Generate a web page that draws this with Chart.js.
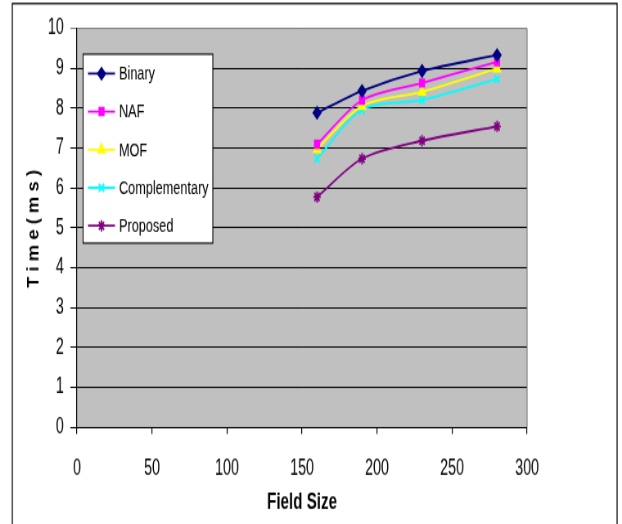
<!DOCTYPE html>
<html>
<head>
<meta charset="utf-8">
<script src="https://cdn.jsdelivr.net/npm/chart.js@4.4.1/dist/chart.umd.min.js"></script>
<style>
  html, body { margin: 0; padding: 0; background: #ffffff; overflow: hidden; }
  #wrap { width: 622px; height: 524px; overflow: hidden; position: relative; }
  /* the reference is a stretched screenshot: draw on 760x416 and stretch to 622x524 */
  #timeChart { position: absolute; left: 0; top: 0; transform-origin: 0 0; transform: scale(0.818421, 1.259615); }
</style>
</head>
<body>
<div id="wrap">
<canvas id="timeChart" width="760" height="416"></canvas>
</div>
<script>
// ---------------- DATA ----------------
const fieldSizes = [160, 190, 230, 280];

const binary        = [7.88, 8.43, 8.93, 9.33];
const naf           = [7.09, 8.20, 8.63, 9.16];
const mof           = [6.97, 8.05, 8.41, 8.99];
const complementary = [6.73, 7.96, 8.20, 8.73];
const proposed      = [5.77, 6.73, 7.18, 7.54];

const seriesNames = ["Binary", "NAF", "MOF", "Complementary", "Proposed"];
const xTicks = [0, 50, 100, 150, 200, 250, 300];
const yTicks = [0, 1, 2, 3, 4, 5, 6, 7, 8, 9, 10];
const yTitle = "T i m e ( m s )";

const sans = "'Liberation Sans', Arial, sans-serif";

function points(values) {
    return fieldSizes.map((x, i) => ({ x: x, y: values[i] }));
}

function series(label, values, color, style, radius) {
    return {
        label: label,
        data: points(values),
        borderColor: color,
        backgroundColor: color,
        borderWidth: 1.8,
        pointStyle: style,
        pointRadius: radius,
        pointBorderWidth: 1.8,
        pointBorderColor: color,
        pointBackgroundColor: color,
        tension: 0.3,
        fill: false
    };
}

// ---------------- PLUGINS ----------------
const plotFrame = {
    id: "plotFrame",
    beforeDraw(chart) {
        const { ctx, chartArea: a } = chart;
        ctx.save();
        ctx.fillStyle = "#c0c0c0";
        ctx.fillRect(a.left, a.top, a.right - a.left, a.bottom - a.top);
        ctx.restore();
    },
    afterDraw(chart) {
        const { ctx, chartArea: a } = chart;
        ctx.save();
        ctx.strokeStyle = "#808080";
        ctx.lineWidth = 1.2;
        ctx.beginPath();
        ctx.moveTo(a.right, a.top);
        ctx.lineTo(a.right, a.bottom);
        ctx.stroke();

        // outer border
        ctx.strokeStyle = "#000000";
        ctx.lineWidth = 1.3;
        ctx.strokeRect(15, 2.8, 739, 420);

        // y axis title, squeezed so it reads like the reference after the stretch
        ctx.translate(41.5, (a.top + a.bottom) / 2 + 1);
        ctx.rotate(-Math.PI / 2);
        ctx.scale(0.814, 1.167);
        ctx.fillStyle = "#000000";
        ctx.font = "bold 18px " + sans;
        ctx.textAlign = "center";
        ctx.textBaseline = "middle";
        ctx.fillText(yTitle, 0, 0);
        ctx.restore();
    }
};

const boxLegend = {
    id: "boxLegend",
    afterDatasetsDraw(chart) {
        const ctx = chart.ctx;
        const left = 101.5, top = 43, width = 158.5, height = 150;
        ctx.save();
        ctx.fillStyle = "#ffffff";
        ctx.fillRect(left, top, width, height);
        ctx.strokeStyle = "#000000";
        ctx.lineWidth = 1.1;
        ctx.strokeRect(left, top, width, height);

        chart.data.datasets.forEach((ds, i) => {
            const y = 58.4 + i * 30.2;
            ctx.strokeStyle = ds.borderColor;
            ctx.fillStyle = ds.borderColor;
            ctx.lineWidth = 1.8;
            ctx.beginPath();
            ctx.moveTo(107.5, y);
            ctx.lineTo(140.5, y);
            ctx.stroke();
            Chart.helpers.drawPoint(ctx, {
                pointStyle: ds.pointStyle,
                radius: ds.pointRadius,
                rotation: 0,
                borderWidth: 1.8
            }, 124, y);
            ctx.fillStyle = "#000000";
            ctx.font = "15.5px " + sans;
            ctx.textBaseline = "middle";
            ctx.textAlign = "left";
            ctx.fillText(ds.label, 145.4, y + 0.5);
        });
        ctx.restore();
    }
};

// ---------------- LINE CHART ----------------
const canvas = document.getElementById("timeChart");

new Chart(canvas, {
    type: "line",

    data: {
        datasets: [
            series(seriesNames[0], binary, "#000080", "rectRot", 4.5),
            series(seriesNames[1], naf, "#ff00ff", "rect", 4),
            series(seriesNames[2], mof, "#ffff00", "triangle", 4.5),
            series(seriesNames[3], complementary, "#00ffff", "crossRot", 4.5),
            series(seriesNames[4], proposed, "#800080", "star", 4.5)
        ]
    },

    options: {
        responsive: false,
        animation: false,
        devicePixelRatio: 1,
        layout: {
            padding: { left: 0, top: 22.5, right: 116, bottom: 0 }
        },
        plugins: {
            legend: { display: false },
            tooltip: { enabled: false }
        },
        scales: {
            x: {
                type: "linear",
                min: 0,
                max: 300,
                afterBuildTicks(scale) {
                    scale.ticks = xTicks.map(v => ({ value: v }));
                },
                afterFit(scale) {
                    scale.height = 77;
                },
                ticks: {
                    color: "#000000",
                    padding: 17.5,
                    maxRotation: 0,
                    font: { family: sans, size: 17.5 }
                },
                grid: {
                    drawOnChartArea: false,
                    drawTicks: true,
                    tickLength: 5.5,
                    lineWidth: 1.2,
                    color: "#000000"
                },
                border: { color: "#000000", width: 1 },
                title: {
                    display: true,
                    text: "Field Size",
                    color: "#000000",
                    padding: { top: 0, bottom: 5.5 },
                    font: { family: sans, size: 18.5, weight: "bold" }
                }
            },
            y: {
                min: 0,
                max: 10,
                afterBuildTicks(scale) {
                    scale.ticks = yTicks.map(v => ({ value: v }));
                },
                afterFit(scale) {
                    scale.width = 94;
                },
                ticks: {
                    color: "#000000",
                    padding: 8,
                    font: { family: sans, size: 17.5 }
                },
                grid: {
                    tickLength: 8,
                    lineWidth: 1,
                    color: ctx => (ctx.tick && ctx.tick.value === 10 ? "#808080" : "#000000")
                },
                border: { color: "#000000", width: 1.2 },
                title: { display: false }
            }
        }
    },

    plugins: [plotFrame, boxLegend]
});
</script>
</body>
</html>
